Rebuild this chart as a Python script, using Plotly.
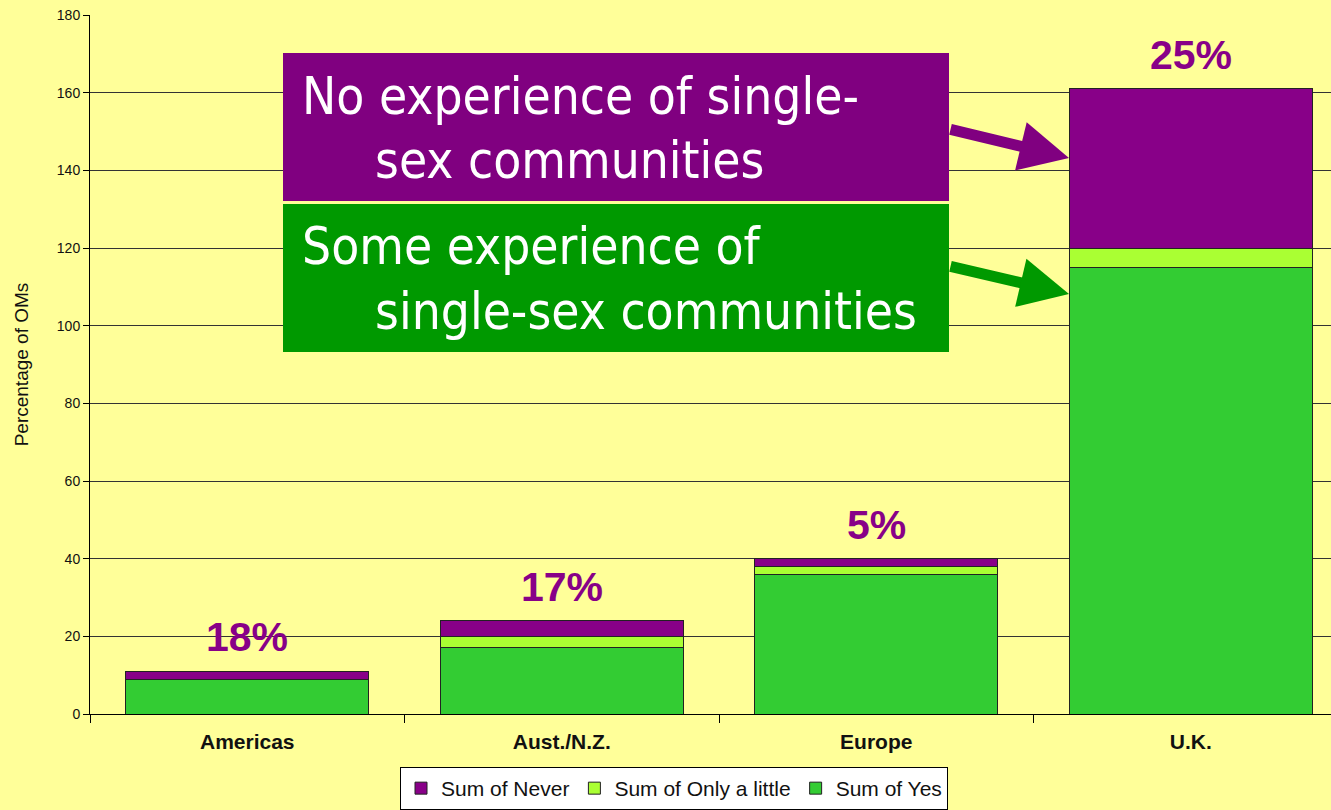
import plotly.graph_objects as go

# ─── Data ────────────────────────────────────────────────────────────────────
regions      = ["Americas", "Aust./N.Z.", "Europe", "U.K."]
sum_yes      = [9, 17, 36, 115]
sum_little   = [0, 3, 2, 5]
sum_never    = [2, 4, 2, 41]

# ─── Colours ─────────────────────────────────────────────────────────────────
BG          = "#FFFF99"
NEVER_COL   = "#880088"
LITTLE_COL  = "#AAFF33"
YES_COL     = "#33CC33"
BOX_PURPLE  = "#800080"
BOX_GREEN   = "#009900"
EDGE        = "#222222"

W, H = 1331, 810
M_L, M_R, M_T, M_B = 90, 0, 15, 96
PW, PH = W - M_L - M_R, H - M_T - M_B


def px(x):
    """pixel x -> paper x"""
    return (x - M_L) / PW


def py(y):
    """pixel y -> paper y"""
    return (H - M_B - y) / PH


fig = go.Figure()
for name, vals, col in [
    ("Sum of Yes", sum_yes, YES_COL),
    ("Sum of Only a little", sum_little, LITTLE_COL),
    ("Sum of Never", sum_never, NEVER_COL),
]:
    fig.add_trace(go.Bar(
        x=regions, y=vals, name=name,
        marker=dict(color=col, line=dict(color=EDGE, width=1)),
    ))

# percentage of "Never" above each bar
totals = [a + b + c for a, b, c in zip(sum_yes, sum_little, sum_never)]
for reg, tot, nev in zip(regions, totals, sum_never):
    fig.add_annotation(
        x=reg, y=tot, text=f"{round(nev / tot * 100)}%",
        showarrow=False, yanchor="bottom", yshift=9,
        font=dict(size=41, color=NEVER_COL, weight="bold",
                  family="Liberation Sans, Arial"),
    )

# ─── Callout boxes ───────────────────────────────────────────────────────────
fig.add_shape(type="rect", xref="paper", yref="paper",
              x0=px(283), x1=px(949), y0=py(201), y1=py(53),
              fillcolor=BOX_PURPLE, line=dict(width=0), layer="above")
fig.add_shape(type="rect", xref="paper", yref="paper",
              x0=px(283), x1=px(949), y0=py(352), y1=py(204),
              fillcolor=BOX_GREEN, line=dict(width=0), layer="above")

CALLOUT_FONT = dict(size=51, color="white",
                    family="DejaVu Sans Condensed, DejaVu Sans, sans-serif")
for text, x, y in [
    ("No experience of single-", 300, 96.5),
    ("sex communities", 373, 160.5),
    ("Some experience of", 300, 246.5),
    ("single-sex communities", 373, 311.5),
]:
    fig.add_annotation(xref="paper", yref="paper", x=px(x), y=py(y),
                       text=text, showarrow=False, xanchor="left",
                       yanchor="middle", font=CALLOUT_FONT)

# arrows
for col, tip, tail in [
    (BOX_PURPLE, (1069, 158), (949, 129)),
    (BOX_GREEN, (1069, 294), (949, 266)),
]:
    fig.add_annotation(xref="paper", yref="paper", x=px(tip[0]), y=py(tip[1]),
                       ax=tail[0] - tip[0], ay=tail[1] - tip[1], text="",
                       showarrow=True, arrowhead=2, arrowsize=0.9,
                       arrowwidth=11, arrowcolor=col, standoff=0,
                       startstandoff=0)

fig.update_layout(
    width=W, height=H,
    margin=dict(l=M_L, r=M_R, t=M_T, b=M_B),
    paper_bgcolor=BG, plot_bgcolor=BG,
    barmode="stack", bargap=0.228,
    font=dict(family="Liberation Sans, Arial, sans-serif", color="#111111"),
    xaxis=dict(
        range=[-0.5, 3.5 - 17 / 314.5],
        showline=True, linecolor="black", linewidth=1,
        ticks="outside", tickson="boundaries", ticklen=8,
        tickcolor="black", showgrid=False, ticklabelstandoff=9,
        tickfont=dict(size=21, family="Liberation Sans, Arial", weight="bold"),
    ),
    yaxis=dict(
        range=[0, 180], dtick=20,
        showline=True, linecolor="black", linewidth=1,
        ticks="outside", ticklen=6, tickcolor="black",
        gridcolor="#333333", gridwidth=1, zeroline=False,
        tickfont=dict(size=14),
        title=dict(text="Percentage of OMs", font=dict(size=19), standoff=23),
    ),
    legend=dict(
        orientation="h", traceorder="reversed",
        x=px(400), xanchor="left", y=py(767), yanchor="top",
        bgcolor="white", bordercolor="black", borderwidth=1,
        font=dict(size=21, color="#111111"),
    ),
    showlegend=True,
)

fig.write_html(
    "out.html",
    config={"displayModeBar": False},
    post_script="document.body.style.margin='0';"
                "document.body.style.background='" + BG + "';",
)
